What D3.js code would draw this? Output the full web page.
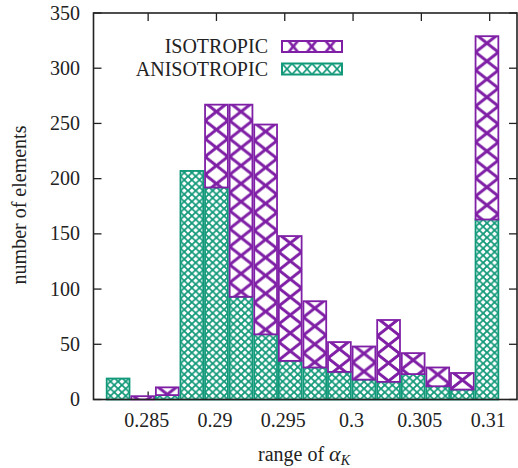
<!DOCTYPE html>
<html>
<head>
<meta charset="utf-8">
<script src="https://cdn.jsdelivr.net/npm/d3@7"></script>
<style>
  html, body { margin: 0; padding: 0; background: #fff; }
  svg { display: block; }
</style>
</head>
<body>
<svg id="chart" width="518" height="468"></svg>
<script>
// ---- data ----
const binCenters = [0.2828, 0.2846, 0.2864, 0.2882, 0.2900, 0.2918, 0.2936, 0.2954,
                    0.2972, 0.2990, 0.3008, 0.3026, 0.3044, 0.3062, 0.3080, 0.3098];
const anisotropic = [19, 0, 4, 207, 192, 93, 59, 35, 29, 25, 18, 16, 23, 12, 9, 163];
const isotropic   = [0, 3, 7, 0, 75, 174, 190, 113, 60, 27, 30, 56, 19, 17, 15, 166];
const binWidth = 0.0018;
const xTicks = [0.285, 0.29, 0.295, 0.3, 0.305, 0.31];
const xTickLabels = ["0.285", "0.29", "0.295", "0.3", "0.305", "0.31"];
const yTicks = [0, 50, 100, 150, 200, 250, 300, 350];
const seriesNames = ["ISOTROPIC", "ANISOTROPIC"];
const seriesColors = ["#7f1fa6", "#12997a"];

(function () {
const FONT = "Liberation Serif";
const pLeft = 93.5, pRight = 517, pTop = 13, pBottom = 399.5;
const svg = d3.select("#chart");
const x = d3.scaleLinear().domain([0.281, 0.312]).range([pLeft, pRight]);
const y = d3.scaleLinear().domain([0, 350]).range([pBottom, pTop]);
const defs = svg.append("defs");

function makePattern(id, color, tileW, tileH, ox, oy, sw) {
  const p = defs.append("pattern")
    .attr("id", id).attr("patternUnits", "userSpaceOnUse")
    .attr("x", ox).attr("y", oy)
    .attr("width", tileW).attr("height", tileH);
  p.append("rect").attr("width", tileW).attr("height", tileH).attr("fill", "#fff");
  const segs = [
    [0, 0, tileW, tileH], [tileW, 0, 0, tileH],
    [-tileW, -tileH, tileW, tileH], [2 * tileW, -tileH, 0, tileH],
  ];
  segs.forEach(s => p.append("line")
    .attr("x1", s[0]).attr("y1", s[1]).attr("x2", s[2]).attr("y2", s[3])
    .attr("stroke", color).attr("stroke-width", sw).attr("stroke-linecap", "square"));
  return "url(#" + id + ")";
}

function txt(sel) {
  return sel.append("text").attr("font-family", FONT).attr("fill", "#222");
}

// ---- ticks (drawn under bars) ----
const tickLen = 8;
const tickG = svg.append("g").attr("stroke", "#222").attr("stroke-width", 1.3);
xTicks.forEach(t => {
  tickG.append("line").attr("x1", x(t)).attr("x2", x(t)).attr("y1", pBottom).attr("y2", pBottom - tickLen);
  tickG.append("line").attr("x1", x(t)).attr("x2", x(t)).attr("y1", pTop).attr("y2", pTop + tickLen);
});
yTicks.forEach(t => {
  tickG.append("line").attr("x1", pLeft).attr("x2", pLeft + tickLen).attr("y1", y(t)).attr("y2", y(t));
  tickG.append("line").attr("x1", pRight).attr("x2", pRight - tickLen).attr("y1", y(t)).attr("y2", y(t));
});

// ---- bars ----
const barW = x(binWidth) - x(0) - 1.8;
const barsG = svg.append("g");
binCenters.forEach((c, i) => {
  const bx = x(c) - barW / 2;
  const a = anisotropic[i];
  if (a > 0) {
    const yTop = y(a);
    const fill = makePattern("pa" + i, seriesColors[1], barW / 3, 7.2, bx, pBottom, 1.4);
    barsG.append("rect").attr("x", bx).attr("y", yTop)
      .attr("width", barW).attr("height", y(0) - yTop)
      .attr("fill", fill).attr("stroke", seriesColors[1]).attr("stroke-width", 1.8);
  }
  const v = isotropic[i];
  if (v > 0) {
    const y0 = y(a), y1 = y(a + v);
    const fill = makePattern("pi" + i, seriesColors[0], barW, 18, bx, y1 - 2, 2.6);
    barsG.append("rect").attr("x", bx).attr("y", y1)
      .attr("width", barW).attr("height", y0 - y1)
      .attr("fill", fill).attr("stroke", seriesColors[0]).attr("stroke-width", 1.8);
  }
});

// ---- frame ----
svg.append("rect").attr("x", pLeft).attr("y", pTop)
  .attr("width", pRight - pLeft).attr("height", pBottom - pTop)
  .attr("fill", "none").attr("stroke", "#222").attr("stroke-width", 1.6);

// ---- tick labels ----
const fs = 20;
xTicks.forEach((t, i) => {
  txt(svg).attr("x", x(t) - 1.5).attr("y", 427)
    .attr("text-anchor", "middle").attr("font-size", fs).text(xTickLabels[i]);
});
yTicks.forEach(t => {
  txt(svg).attr("x", 80).attr("y", y(t)).attr("dy", "0.33em")
    .attr("text-anchor", "end").attr("font-size", fs).text(String(t));
});

// ---- axis titles ----
const xt = txt(svg).attr("x", 304).attr("y", 461)
  .attr("text-anchor", "middle").attr("font-size", fs);
xt.append("tspan").text("range of ");
xt.append("tspan").attr("font-style", "italic").attr("font-size", 22).text("α");
xt.append("tspan").attr("font-style", "italic").attr("font-size", 14).attr("dy", 4).text("K");

txt(svg).attr("transform", "translate(26,205) rotate(-90)")
  .attr("text-anchor", "middle").attr("font-size", fs).text("number of elements");

// ---- legend ----
const legRows = [{ y: 46.5, i: 0 }, { y: 69, i: 1 }];
legRows.forEach(r => {
  txt(svg).attr("x", 268).attr("y", r.y).attr("dy", "0.33em")
    .attr("text-anchor", "end").attr("font-size", fs).text(seriesNames[r.i]);
  const bx = 282, bw = 60, bh = 11, by = r.y - bh / 2;
  const fill = r.i === 0
    ? makePattern("lg0", seriesColors[0], 18.5, 22, bx + 2, by - 5.5, 2.4)
    : makePattern("lg1", seriesColors[1], 10, 11, bx, by, 1.4);
  svg.append("rect").attr("x", bx).attr("y", by).attr("width", bw).attr("height", bh)
    .attr("fill", fill).attr("stroke", seriesColors[r.i]).attr("stroke-width", 2);
});
})();
</script>
</body>
</html>
